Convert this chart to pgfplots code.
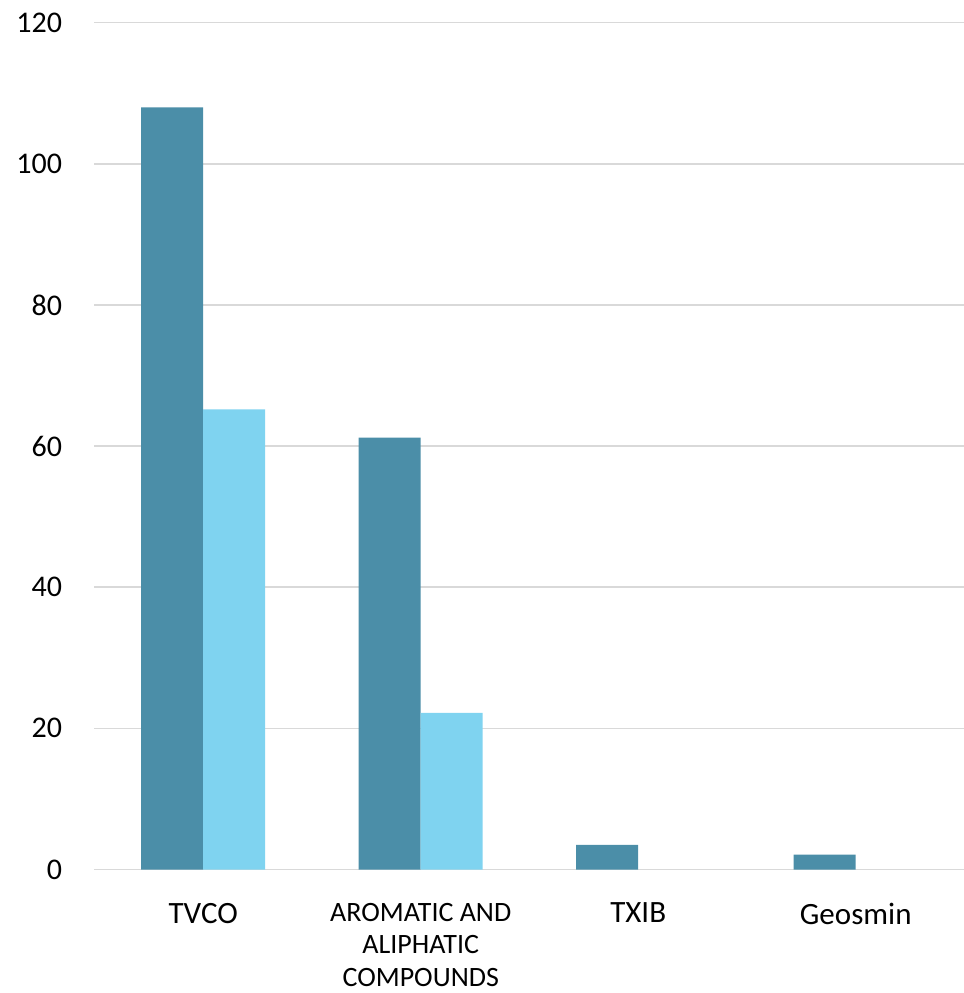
\documentclass[border=0pt]{standalone}
\usepackage{pgfplots}
\pgfplotsset{compat=1.18}
\usepackage{fontspec}
\setmainfont{Carlito}

\definecolor{barDark}{RGB}{75,142,168}
\definecolor{barLight}{RGB}{127,211,240}
\definecolor{gridGray}{RGB}{217,217,217}

% slightly smaller type for the three-line category name
\newcommand\catsmall{\fontsize{14}{16.3}\selectfont}

\begin{document}
\begin{tikzpicture}
\path[use as bounding box] (-47.25pt,-61.75pt) rectangle (434.75pt,434.75pt);
\begin{axis}[
  at={(0,0)}, anchor=south west,
  scale only axis,
  width=435pt, height=423.4pt,
  xmin=-0.5, xmax=3.5,
  ymin=0, ymax=120,
  ytick={0,20,...,120},
  xtick={0,1,2,3},
  xticklabels={TVCO,{\catsmall AROMATIC AND\\\catsmall ALIPHATIC\\\catsmall COMPOUNDS},TXIB,Geosmin},
  axis line style={draw=none},
  major tick length=0pt,
  ymajorgrids,
  grid style={gridGray, line width=0.75pt},
  /pgf/number format/assume math mode=true,
  yticklabel style={font=\fontsize{15}{18}\selectfont, anchor=east, inner sep=0pt, xshift=-16pt},
  xticklabel style={font=\fontsize{15.5}{16.3}\selectfont, anchor=north, inner sep=0pt, yshift=-16.6pt, align=center},
  ybar=0pt,
  bar width=31pt,
]
\addplot[fill=barDark, draw=none] coordinates {(0,108) (1,61.2) (2,3.5) (3,2.1)};
\addplot[fill=barLight, draw=none] coordinates {(0,65.2) (1,22.2)};
\end{axis}
\end{tikzpicture}
\end{document}
